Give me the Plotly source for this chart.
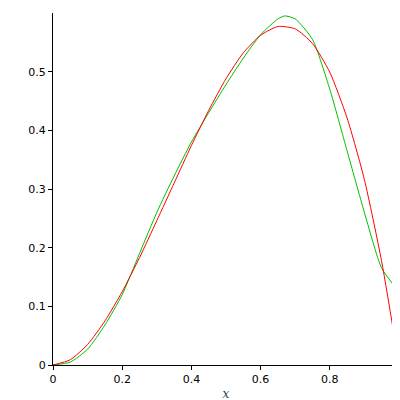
import plotly.graph_objects as go

# values
red_x = [0, 0.05, 0.1, 0.15, 0.2, 0.25, 0.3, 0.35, 0.4, 0.45, 0.5, 0.55, 0.6, 0.65, 0.7, 0.75, 0.8, 0.85, 0.9, 0.95, 1.0]
red_y = [0, 0.009, 0.035, 0.075, 0.125, 0.183, 0.246, 0.31, 0.374, 0.434, 0.488, 0.532, 0.562, 0.577, 0.573, 0.548, 0.499, 0.421, 0.316, 0.176, 0]

green_x = [0, 0.05, 0.1, 0.15, 0.2, 0.25, 0.3, 0.35, 0.4, 0.45, 0.5, 0.55, 0.6, 0.65, 0.67, 0.7, 0.75, 0.8, 0.85, 0.9, 0.95, 1.0]
green_y = [0, 0.005, 0.027, 0.068, 0.12, 0.19, 0.26, 0.322, 0.38, 0.43, 0.478, 0.523, 0.563, 0.59, 0.595, 0.59, 0.555, 0.47, 0.365, 0.26, 0.165, 0.125]

ticks_x = [0, 0.2, 0.4, 0.6, 0.8, 1]
ticks_y = [0, 0.1, 0.2, 0.3, 0.4, 0.5]

fig = go.Figure()
fig.add_trace(go.Scatter(x=green_x, y=green_y, mode="lines",
                         line=dict(color="#00c000", width=1, shape="spline", smoothing=0.6)))
fig.add_trace(go.Scatter(x=red_x, y=red_y, mode="lines",
                         line=dict(color="#ff0000", width=1, shape="spline", smoothing=0.6)))

axis = dict(showgrid=False, zeroline=False, showline=True, linecolor="black",
            linewidth=1, ticks="outside", ticklen=4, tickcolor="black",
            tickfont=dict(size=11, color="black", family="DejaVu Sans"))
fig.update_layout(
    width=400, height=400, showlegend=False,
    plot_bgcolor="white", paper_bgcolor="white",
    margin=dict(l=45, r=9, t=5, b=43),
    xaxis=dict(axis, range=[0, 1], autorange=False, tickvals=ticks_x,
               ticktext=[f"{v:g}" for v in ticks_x],
               title=dict(text="<i>x</i>", font=dict(size=12, family="DejaVu Serif"), standoff=4)),
    yaxis=dict(axis, range=[0, 0.6], autorange=False, tickvals=ticks_y,
               ticktext=[f"{v:g}" for v in ticks_y]),
)
fig.write_html("out.html")
